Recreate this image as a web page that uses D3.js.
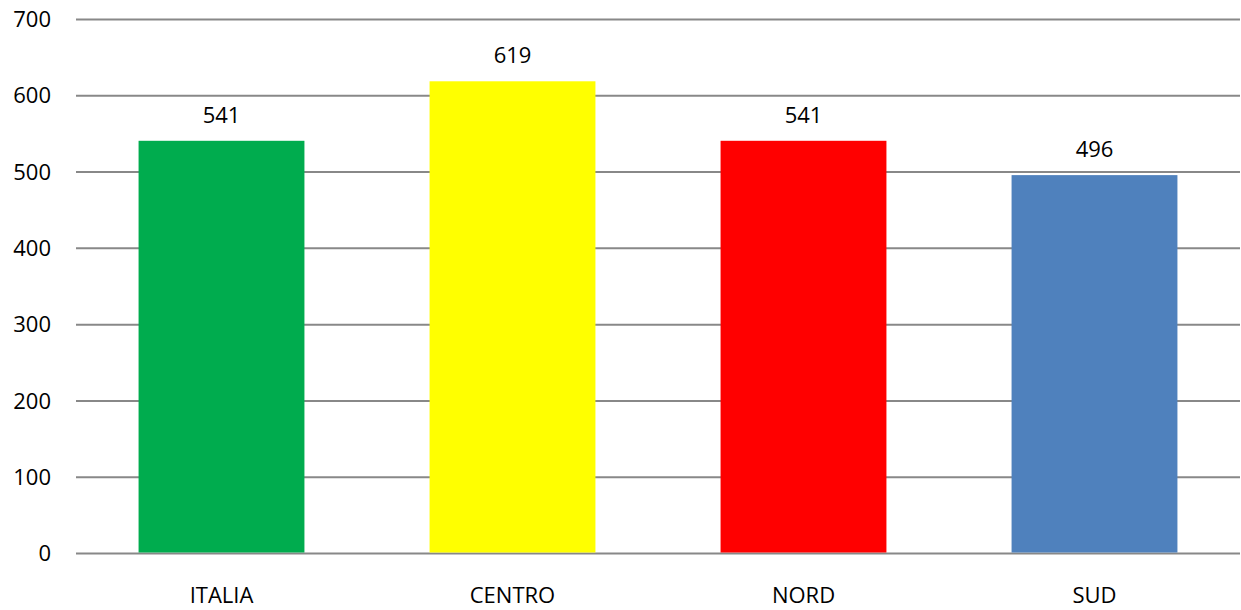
<!DOCTYPE html>
<html>
<head>
<meta charset="utf-8">
<script src="https://cdn.jsdelivr.net/npm/d3@7"></script>
<style>
  html, body { margin: 0; padding: 0; background: #fff; }
  text { font-family: "Open Sans", sans-serif; fill: #000; }
</style>
</head>
<body>
<div id="container"></div>
<script>
const WIDTH = 1241;
const HEIGHT = 610;
const MARGIN = { TOP: 19.5, BOTTOM: 56.5, LEFT: 76, RIGHT: 1 };

const categories = ['ITALIA', 'CENTRO', 'NORD', 'SUD'];
const values = [541, 619, 541, 496];
const colors = ['#00ac4e', '#ffff00', '#ff0000', '#4f81bd'];
const yTicks = [0, 100, 200, 300, 400, 500, 600, 700];

const width = WIDTH - MARGIN.LEFT - MARGIN.RIGHT;
const height = HEIGHT - MARGIN.TOP - MARGIN.BOTTOM;

const svg = d3.select('#container')
    .append('svg')
    .attr('width', WIDTH)
    .attr('height', HEIGHT);

const g = svg.append('g')
    .attr('transform', `translate(${MARGIN.LEFT}, ${MARGIN.TOP})`);

const x = d3.scaleBand()
    .domain(categories)
    .range([0, width])
    .paddingInner(0.43)
    .paddingOuter(0.215);

const y = d3.scaleLinear()
    .domain([0, 700])
    .range([height, 0]);

// gridlines
g.selectAll('line.grid')
    .data(yTicks)
    .enter()
    .append('line')
    .attr('class', 'grid')
    .attr('x1', 0)
    .attr('x2', width)
    .attr('y1', d => y(d))
    .attr('y2', d => y(d))
    .attr('stroke', '#888')
    .attr('stroke-width', 2);

// y labels
g.selectAll('text.ylab')
    .data(yTicks)
    .enter()
    .append('text')
    .attr('class', 'ylab')
    .attr('x', -25)
    .attr('y', d => y(d))
    .attr('dy', '0.35em')
    .attr('text-anchor', 'end')
    .attr('font-size', 22)
    .text(d => d);

const data = categories.map((c, i) => ({ cat: c, value: values[i], color: colors[i] }));

g.selectAll('rect.bar')
    .data(data)
    .enter()
    .append('rect')
    .attr('class', 'bar')
    .attr('x', d => x(d.cat))
    .attr('width', x.bandwidth())
    .attr('y', d => y(d.value))
    .attr('height', d => height - y(d.value) - 1)
    .attr('fill', d => d.color);

// value labels
g.selectAll('text.val')
    .data(data)
    .enter()
    .append('text')
    .attr('class', 'val')
    .attr('x', d => x(d.cat) + x.bandwidth() / 2)
    .attr('y', d => y(d.value) - 18)
    .attr('text-anchor', 'middle')
    .attr('font-size', 22)
    .text(d => d.value);

// category labels
g.selectAll('text.cat')
    .data(data)
    .enter()
    .append('text')
    .attr('class', 'cat')
    .attr('x', d => x(d.cat) + x.bandwidth() / 2)
    .attr('y', height + 49.5)
    .attr('text-anchor', 'middle')
    .attr('font-size', 22)
    .text(d => d.cat);
</script>
</body>
</html>
